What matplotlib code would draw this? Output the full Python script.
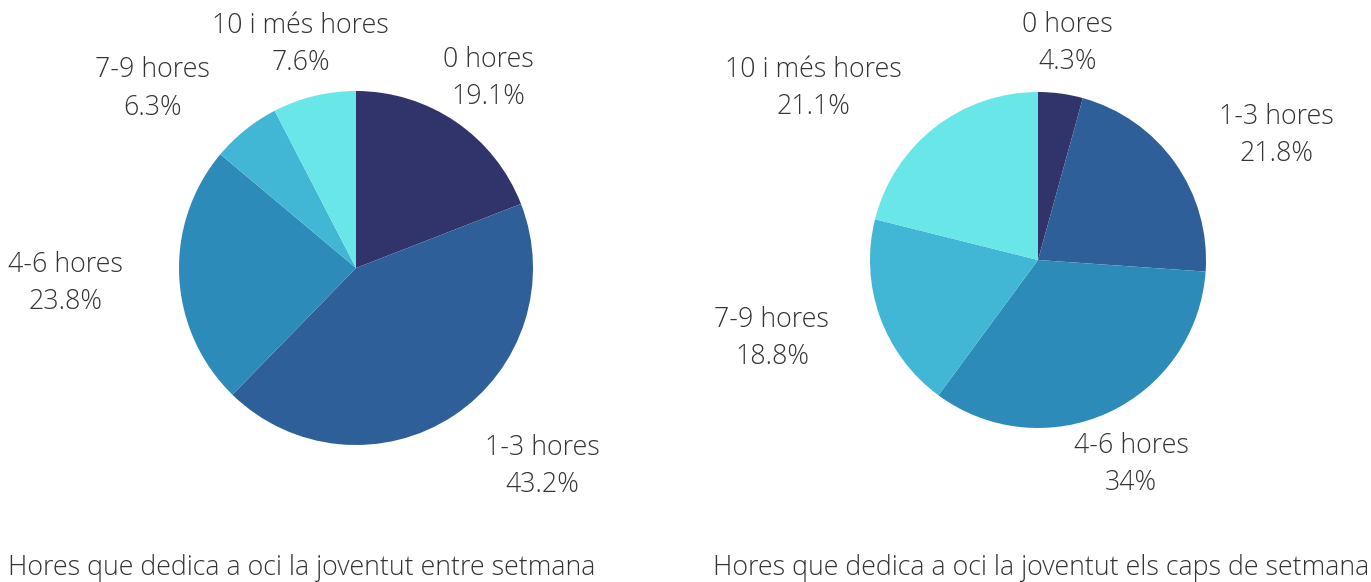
import matplotlib
matplotlib.use("Agg")
import matplotlib.pyplot as plt
import matplotlib.transforms as mtransforms
import numpy as np

plt.rcParams['font.family'] = ['Open Sans', 'DejaVu Sans']

categories = ['0 hores', '1-3 hores', '4-6 hores', '7-9 hores', '10 i més hores']
weekday = [19.1, 43.2, 23.8, 6.3, 7.6]
weekend = [4.3, 21.8, 34, 18.8, 21.1]
titles = ['Hores que dedica a oci la joventut entre setmana',
          'Hores que dedica a oci la joventut els caps de setmana']

colors = ['#30346b', '#2e5f98', '#2d8bba', '#42b7d5', '#69e6e8']
text_color = '#333333'

fig = plt.figure(figsize=(13.71, 5.82), dpi=100)

# pie axes in figure pixels: (left, top, size)
rects = [(179, 91, 354), (870, 92, 336)]
# horizontal alignment of the outside labels
aligns = [['center', 'left', 'right', 'right', 'center'],
          ['center', 'left', 'center', 'right', 'right']]
title_x = [8, 713]


def draw_pie(ax, values, ha_list):
    wedges, texts = ax.pie(values, colors=colors, startangle=90, counterclock=False,
                           labels=[f"{c}\n{v:g}%" for c, v in zip(categories, values)],
                           labeldistance=1.32, radius=1,
                           wedgeprops=dict(linewidth=0),
                           textprops=dict(fontsize=19.3, color=text_color, weight='light',
                                          linespacing=1.45))
    shift = mtransforms.offset_copy(ax.transData, fig=fig, x=0, y=-3.5, units='dots')
    for t, ha in zip(texts, ha_list):
        t.set_ha(ha)
        t.set_va('center')
        t.set_multialignment('center')
        t.set_transform(shift)
    ax.set_xlim(-1, 1)
    ax.set_ylim(-1, 1)
    ax.set_aspect('equal')


for (l, t, s), vals, ha_list, ttl, tx in zip(rects, [weekday, weekend], aligns, titles, title_x):
    ax = fig.add_axes([l / 1371, (582 - t - s) / 582, s / 1371, s / 582])
    draw_pie(ax, vals, ha_list)
    fig.text(tx / 1371, 7 / 582, ttl, fontsize=19.25, color=text_color, weight='light',
             ha='left', va='baseline')

fig.savefig('out.png', dpi=100)
